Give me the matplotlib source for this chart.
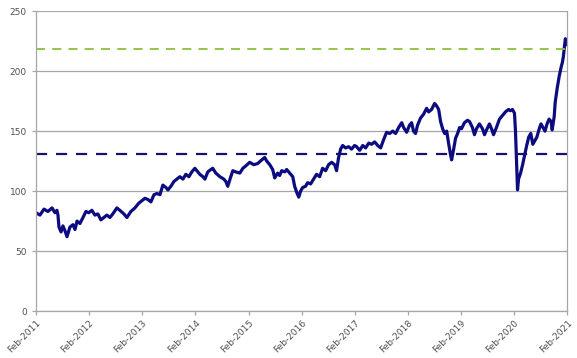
import pandas as pd
import matplotlib
matplotlib.use("Agg")
import matplotlib.pyplot as plt
import matplotlib.dates as mdates

# index level
dates = [
    "2011-02-01", "2011-02-28", "2011-03-28", "2011-04-24", "2011-05-22", "2011-06-11",
    "2011-06-25", "2011-07-02", "2011-07-09", "2011-07-23", "2011-08-05", "2011-08-19",
    "2011-09-02", "2011-09-22", "2011-10-13", "2011-10-27", "2011-11-10", "2011-11-30",
    "2011-12-21", "2012-01-10", "2012-01-30", "2012-02-20", "2012-03-12", "2012-04-01",
    "2012-04-22", "2012-05-13", "2012-06-02", "2012-06-23", "2012-07-13", "2012-08-10",
    "2012-08-30", "2012-09-27", "2012-10-18", "2012-11-14", "2012-12-12", "2013-01-08",
    "2013-01-29", "2013-02-19", "2013-03-11", "2013-04-01", "2013-04-22", "2013-05-12",
    "2013-06-02", "2013-06-22", "2013-07-13", "2013-07-27", "2013-08-16", "2013-09-06",
    "2013-09-27", "2013-10-17", "2013-11-07", "2013-11-27", "2013-12-18", "2014-01-07",
    "2014-01-28", "2014-02-11", "2014-03-03", "2014-03-24", "2014-04-07", "2014-04-27",
    "2014-05-18", "2014-05-31", "2014-06-21", "2014-07-19", "2014-08-15", "2014-08-29",
    "2014-09-11", "2014-10-02", "2014-10-16", "2014-11-05", "2014-12-03", "2014-12-24",
    "2015-01-13", "2015-02-09", "2015-03-09", "2015-04-05", "2015-05-03", "2015-05-23",
    "2015-06-06", "2015-06-27", "2015-07-17", "2015-07-31", "2015-08-20", "2015-09-03",
    "2015-09-17", "2015-10-08", "2015-10-21", "2015-11-11", "2015-12-02", "2015-12-15",
    "2015-12-29", "2016-01-12", "2016-01-25", "2016-02-08", "2016-02-28", "2016-03-13",
    "2016-04-03", "2016-04-23", "2016-05-14", "2016-06-04", "2016-06-24", "2016-07-15",
    "2016-08-04", "2016-08-25", "2016-09-15", "2016-09-28", "2016-10-12", "2016-10-26",
    "2016-11-09", "2016-11-29", "2016-12-20", "2017-01-09", "2017-01-30", "2017-02-13",
    "2017-03-06", "2017-03-27", "2017-04-16", "2017-05-07", "2017-05-27", "2017-06-17",
    "2017-07-08", "2017-07-28", "2017-08-18", "2017-09-07", "2017-09-28", "2017-10-19",
    "2017-11-08", "2017-11-29", "2017-12-20", "2018-01-02", "2018-01-23", "2018-02-12",
    "2018-02-26", "2018-03-11", "2018-03-25", "2018-04-08", "2018-04-29", "2018-05-19",
    "2018-06-09", "2018-06-23", "2018-07-13", "2018-08-03", "2018-08-17", "2018-08-31",
    "2018-09-13", "2018-09-27", "2018-10-11", "2018-10-25", "2018-11-07", "2018-11-21",
    "2018-11-28", "2018-12-12", "2018-12-25", "2019-01-08", "2019-01-22", "2019-02-04",
    "2019-02-24", "2019-03-17", "2019-03-31", "2019-04-20", "2019-05-04", "2019-05-18",
    "2019-06-07", "2019-06-28", "2019-07-12", "2019-07-26", "2019-08-15", "2019-08-29",
    "2019-09-12", "2019-10-02", "2019-10-23", "2019-11-13", "2019-12-03", "2019-12-24",
    "2020-01-06", "2020-01-20", "2020-02-03", "2020-02-10", "2020-02-17", "2020-02-24",
    "2020-03-02", "2020-03-16", "2020-03-30", "2020-04-13", "2020-04-27", "2020-05-11",
    "2020-05-25", "2020-06-08", "2020-06-22", "2020-07-06", "2020-07-20", "2020-08-03",
    "2020-08-17", "2020-08-31", "2020-09-14", "2020-09-28", "2020-10-12", "2020-10-19",
    "2020-11-02", "2020-11-09", "2020-11-23", "2020-12-07", "2020-12-21", "2020-12-28",
    "2021-01-04", "2021-01-11", "2021-01-18", "2021-01-25", "2021-02-01",
]
values = [
    82, 80, 85, 83, 86, 82,
    84, 80, 70, 66, 71, 67,
    62, 70, 72, 68, 75, 73,
    78, 83, 82, 84, 80, 81,
    76, 78, 80, 78, 81, 86,
    84, 81, 78, 83, 86, 90,
    92, 94, 93, 91, 97, 98,
    97, 105, 103, 101, 104, 108,
    110, 112, 110, 114, 112, 116,
    119, 117, 114, 112, 110, 116,
    118, 119, 115, 112, 110, 108,
    104, 112, 117, 116, 115, 119,
    121, 124, 122, 123, 126, 128,
    125, 122, 118, 111, 115, 113,
    117, 116, 118, 115, 112, 104,
    99, 95, 100, 103, 104, 107,
    106, 110, 114, 112, 119, 117,
    122, 124, 122, 117, 128, 135,
    138, 136, 137, 135, 138, 137,
    134, 138, 136, 140, 139, 141,
    138, 136, 143, 149, 148, 150,
    148, 153, 157, 153, 149, 155,
    157, 150, 148, 155, 161, 164,
    169, 166, 168, 173, 171, 168,
    158, 152, 148, 150, 140, 130,
    126, 135, 144, 148, 153, 152,
    157, 159, 158, 153, 147, 152,
    156, 152, 147, 151, 156, 152,
    147, 153, 160, 163, 166, 168,
    167, 168, 165, 150, 125, 101,
    110, 115, 122, 130, 138, 145,
    148, 139, 142, 145, 151, 156,
    153, 150, 156, 160, 158, 151,
    162, 174, 186, 196, 204, 207,
    212, 220, 227, 222, 225,
]
upper_level = 218
lower_level = 131
year_ticks = ["2011-02-01", "2012-02-01", "2013-02-01", "2014-02-01", "2015-02-01", "2016-02-01",
              "2017-02-01", "2018-02-01", "2019-02-01", "2020-02-01", "2021-02-01"]

df = pd.DataFrame({"date": pd.to_datetime(dates), "value": values})
ticks = pd.to_datetime(year_ticks)

grey = "#a6a6a6"
fig = plt.figure(figsize=(5.77, 3.58), dpi=100)
ax = fig.add_axes([0.0624, 0.131, 0.921, 0.838])

ax.plot(df["date"], df["value"], color="#0c0c80", linewidth=2.3, solid_joinstyle="round")
ax.axhline(upper_level, color="#8dbf3a", linestyle=(0, (5, 4)), linewidth=1.3)
ax.axhline(lower_level, color="#13136e", linestyle=(0, (5, 4)), linewidth=1.6)

ax.set_ylim(0, 250)
ax.set_yticks(range(0, 251, 50))
ax.set_xlim(ticks[0], ticks[-1])
ax.set_xticks(ticks)
ax.xaxis.set_major_formatter(mdates.DateFormatter("%b-%Y"))
ax.grid(True, axis="y", color=grey, linewidth=0.9)
ax.set_axisbelow(True)

for side in ["left", "bottom", "right"]:
    ax.spines[side].set_color(grey)
    ax.spines[side].set_linewidth(0.9)
ax.spines["top"].set_visible(False)

ax.tick_params(axis="both", colors=grey, length=3, width=0.9, labelsize=6.5, labelcolor="#505050")
ax.tick_params(axis="x", pad=2)
plt.setp(ax.get_xticklabels(), rotation=45, ha="right", rotation_mode="anchor")

fig.savefig("out.png", dpi=100)
